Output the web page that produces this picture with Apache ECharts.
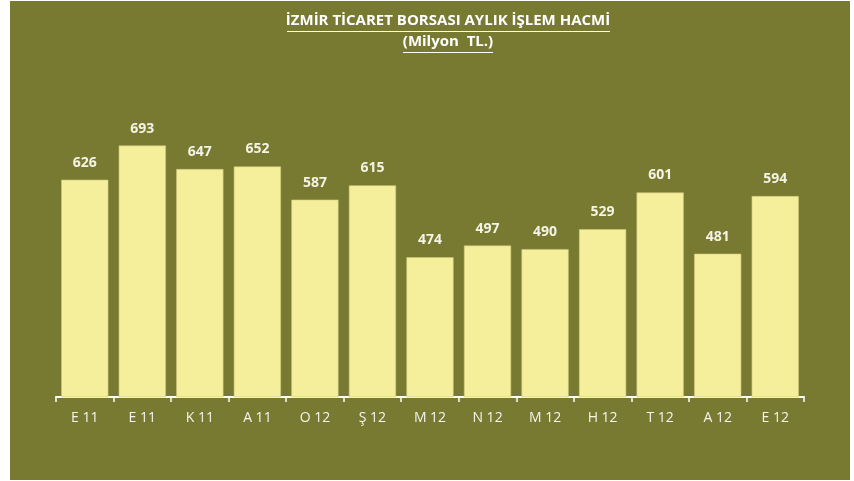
<!DOCTYPE html>
<html>
<head>
<meta charset="utf-8">
<script src="https://cdn.jsdelivr.net/npm/echarts@6/dist/echarts.min.js"></script>
<style>
  html, body { margin: 0; padding: 0; background: #fff; }
  #chart { width: 854px; height: 481px; }
</style>
</head>
<body>
<div id="chart"></div>
<script>
var months = ['E 11', 'E 11', 'K 11', 'A 11', 'O 12', 'Ş 12', 'M 12', 'N 12', 'M 12', 'H 12', 'T 12', 'A 12', 'E 12'];
var volumes = [626, 693, 647, 652, 587, 615, 474, 497, 490, 529, 601, 481, 594];
var titleLines = ['İZMİR TİCARET BORSASI AYLIK İŞLEM HACMİ', '(Milyon  TL.)'];

var myChart = echarts.init(document.getElementById('chart'));
var olive = '#787a32';
var titleFont = 'bold 15px "Open Sans", sans-serif';

var option = {
    backgroundColor: '#ffffff',
    animation: false,
    graphic: [
        { type: 'rect', z: -10, shape: { x: 10, y: 1, width: 840, height: 479 }, style: { fill: olive } },
        { type: 'text', x: 448, y: 13, style: { text: titleLines[0], fill: '#fff', font: titleFont, align: 'center' } },
        { type: 'text', x: 448, y: 34, style: { text: titleLines[1], fill: '#fff', font: titleFont, align: 'center' } },
        { type: 'line', shape: { x1: 287, y1: 31.5, x2: 610, y2: 31.5 }, style: { stroke: '#fff', lineWidth: 1 } },
        { type: 'line', shape: { x1: 403, y1: 52.5, x2: 493, y2: 52.5 }, style: { stroke: '#fff', lineWidth: 1 } }
    ],
    grid: { left: 56, right: 50, top: 91, bottom: 84 },
    xAxis: {
        type: 'category',
        data: months,
        axisLine: { lineStyle: { color: '#fff', width: 2 } },
        axisTick: { show: true, length: 5, lineStyle: { color: '#fff', width: 1.5 } },
        axisLabel: { color: '#f4f4ea', fontSize: 14, margin: 14, fontFamily: '"Open Sans", sans-serif' }
    },
    yAxis: {
        type: 'value',
        min: 200,
        max: 800,
        show: false,
        splitLine: { show: false }
    },
    series: [{
        type: 'bar',
        data: volumes,
        barCategoryGap: '18%',
        itemStyle: { color: '#f5ef9b', borderColor: '#cdc77c', borderWidth: 0.6 },
        label: {
            show: true,
            position: 'top',
            distance: 10,
            color: '#f4f4e4',
            fontWeight: 'bold',
            fontSize: 14,
            fontFamily: '"Open Sans", sans-serif'
        }
    }]
};
myChart.setOption(option);
</script>
</body>
</html>
